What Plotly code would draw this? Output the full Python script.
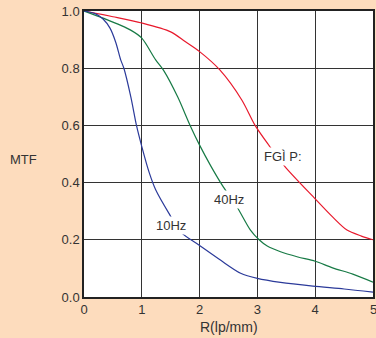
import plotly.graph_objects as go

red_x = [0, 0.5, 1.0, 1.5, 1.75, 2.0, 2.35, 2.73, 2.96, 3.2, 3.48, 4.0, 4.3, 4.55, 4.8, 5.0]
red_y = [1.0, 0.98, 0.958, 0.927, 0.893, 0.858, 0.794, 0.689, 0.60, 0.53, 0.455, 0.343, 0.28, 0.234, 0.213, 0.2]

green_x = [0, 0.33, 0.8, 1.0, 1.24, 1.385, 1.62, 1.84, 2.0, 2.2, 2.41, 2.65, 2.88, 3.03, 3.17, 3.4, 3.7, 4.0, 4.3, 4.65, 5.0]
green_y = [1.0, 0.975, 0.934, 0.905, 0.829, 0.79, 0.70, 0.598, 0.531, 0.456, 0.385, 0.314, 0.234, 0.2, 0.178, 0.158, 0.14, 0.125, 0.102, 0.08, 0.052]

blue_x = [0, 0.2, 0.33, 0.45, 0.55, 0.635, 0.69, 0.81, 0.91, 1.0, 1.13, 1.24, 1.48, 1.68, 2.0, 2.36, 2.71, 3.0, 3.4, 3.96, 4.5, 5.0]
blue_y = [1.0, 0.99, 0.972, 0.94, 0.89, 0.829, 0.80, 0.70, 0.598, 0.526, 0.434, 0.375, 0.289, 0.226, 0.18, 0.129, 0.083, 0.065, 0.051, 0.038, 0.028, 0.017]

labels = ["10Hz", "40Hz", "FGÌ P:"]
label_x = [1.51, 2.51, 3.45]
label_y = [0.25, 0.34, 0.49]

x_ticks = [0, 1, 2, 3, 4, 5]
y_ticks = [0.0, 0.2, 0.4, 0.6, 0.8, 1.0]

FONT = "Liberation Sans, Arial"

fig = go.Figure()
fig.add_trace(go.Scatter(x=red_x, y=red_y, mode="lines", line=dict(color="#E8192C", width=1.2, shape="spline", smoothing=0.8)))
fig.add_trace(go.Scatter(x=green_x, y=green_y, mode="lines", line=dict(color="#177A45", width=1.2, shape="spline", smoothing=0.8)))
fig.add_trace(go.Scatter(x=blue_x, y=blue_y, mode="lines", line=dict(color="#2B3A9A", width=1.2, shape="spline", smoothing=0.8)))

for t, x, y in zip(labels, label_x, label_y):
    fig.add_annotation(x=x, y=y, text=t, showarrow=False, bgcolor="white",
                       font=dict(family=FONT, size=13, color="#333333"), borderpad=1)

# last x tick label sits at the right edge (drawn as annotation so it is not dropped)
fig.add_annotation(x=x_ticks[-1], xref="x", y=-0.012, yref="paper", yanchor="top", text=str(x_ticks[-1]),
                   showarrow=False, font=dict(family=FONT, size=13, color="#333333"))

fig.add_annotation(x=-0.208, xref="paper", xanchor="center", y=0.48, yref="paper", text="MTF", showarrow=False,
                   font=dict(family=FONT, size=13, color="#333333"))

fig.add_annotation(x=0.5, xref="paper", xanchor="center", y=-0.07, yref="paper", yanchor="top", text="R(lp/mm)",
                   showarrow=False, font=dict(family=FONT, size=14, color="#333333"))

fig.update_layout(
    width=376, height=338,
    margin=dict(l=84, r=3, t=11, b=41, autoexpand=False),
    paper_bgcolor="#FDDCBD", plot_bgcolor="white",
    showlegend=False,
    font=dict(family=FONT, size=13, color="#333333"),
)
fig.update_xaxes(range=[0, 5], tickvals=x_ticks[:-1], ticktext=[str(v) for v in x_ticks[:-1]],
                 showgrid=True, gridcolor="#333333", gridwidth=1.2, zeroline=False,
                 showline=True, linecolor="#222222", linewidth=1.5, mirror=True, ticks="",
                 automargin=False, fixedrange=True, tickfont=dict(size=13))
fig.update_yaxes(range=[0, 1], tickvals=y_ticks, ticktext=[f"{v:.1f}" for v in y_ticks],
                 showgrid=True, gridcolor="#333333", gridwidth=1.2, zeroline=False,
                 showline=True, linecolor="#222222", linewidth=1.5, mirror=True, ticks="",
                 automargin=False, fixedrange=True, tickfont=dict(size=13))

fig.write_html("out.html", config={"displayModeBar": False},
               post_script="document.body.style.margin='0';document.body.style.overflow='hidden';")
